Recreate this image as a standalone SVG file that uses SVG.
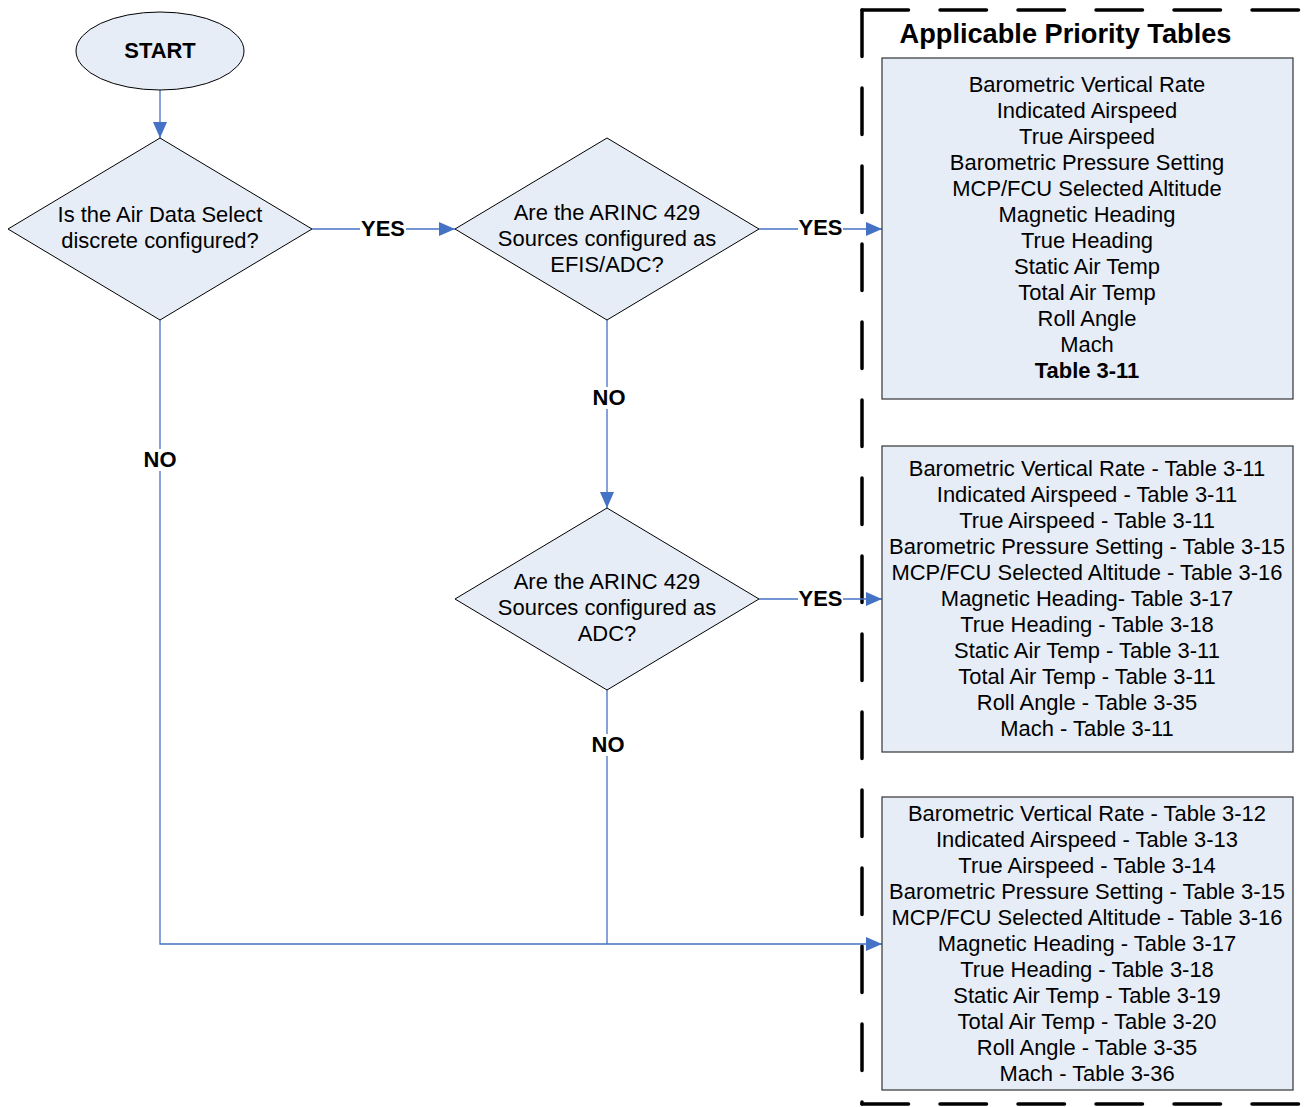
<svg xmlns="http://www.w3.org/2000/svg" width="1306" height="1107" viewBox="0 0 1306 1107">
<defs>
<marker id="arr" markerUnits="userSpaceOnUse" markerWidth="16" markerHeight="14" refX="16" refY="7" orient="auto">
<path d="M0,0 L16,7 L0,14 z" fill="#4472C4"/>
</marker>
<style>
text{font-family:"Liberation Sans",Arial,sans-serif;font-size:21.95px;fill:#000;text-anchor:middle}
.b{font-weight:bold}
.title{font-size:27.2px;font-weight:bold}
.shape{fill:#E7EDF7;stroke:#000;stroke-width:1}
.box{fill:#E7EDF7;stroke:#333;stroke-width:1.2}
.conn{fill:none;stroke:#4472C4;stroke-width:1.3}
.lbl{fill:#fff;stroke:none}
.dash{fill:none;stroke:#000;stroke-width:3.5;stroke-linecap:round;stroke-dasharray:46.5 31.5}
</style>
</defs>
<rect width="1306" height="1107" fill="#fff"/>

<g id="frame">
<path class="dash" d="M862,10 L862,1104"/>
<path class="dash" d="M862,10 L1306,10"/>
<path class="dash" d="M862,1104 L1306,1104"/>
<text class="title" x="1065.5" y="43">Applicable Priority Tables</text>
</g>

<g id="connectors">
<path class="conn" d="M160,90 L160,138" marker-end="url(#arr)"/>
<path class="conn" d="M312,229 L455,229" marker-end="url(#arr)"/>
<path class="conn" d="M759,229 L882,229" marker-end="url(#arr)"/>
<path class="conn" d="M607,320 L607,508" marker-end="url(#arr)"/>
<path class="conn" d="M759,599 L882,599" marker-end="url(#arr)"/>
<path class="conn" d="M607,690 L607,944"/>
<path class="conn" d="M160,320 L160,944 L882,944" marker-end="url(#arr)"/>
<rect class="lbl" x="360" y="218" width="46" height="22"/>
<text class="b" x="383" y="236">YES</text>
<rect class="lbl" x="798" y="217" width="45" height="22"/>
<text class="b" x="820.5" y="235">YES</text>
<rect class="lbl" x="592" y="387" width="34" height="22"/>
<text class="b" x="609" y="405">NO</text>
<rect class="lbl" x="798" y="588" width="45" height="22"/>
<text class="b" x="820.5" y="606">YES</text>
<rect class="lbl" x="591" y="734" width="34" height="22"/>
<text class="b" x="608" y="752">NO</text>
<rect class="lbl" x="143" y="449" width="34" height="22"/>
<text class="b" x="160" y="467">NO</text>
</g>

<g id="start">
<ellipse class="shape" cx="160" cy="51" rx="84" ry="39"/>
<text class="b" x="160" y="58">START</text>
</g>

<g id="decision1">
<polygon class="shape" points="160,138 312,229 160,320 8,229"/>
<text x="160" y="221.5">Is the Air Data Select</text>
<text x="160" y="247.5">discrete configured?</text>
</g>

<g id="decision2">
<polygon class="shape" points="607,138 759,229 607,320 455,229"/>
<text x="607" y="219.5">Are the ARINC 429</text>
<text x="607" y="245.5">Sources configured as</text>
<text x="607" y="271.5">EFIS/ADC?</text>
</g>

<g id="decision3">
<polygon class="shape" points="607,508 759,599 607,690 455,599"/>
<text x="607" y="588.5">Are the ARINC 429</text>
<text x="607" y="614.5">Sources configured as</text>
<text x="607" y="640.5">ADC?</text>
</g>

<g id="table1">
<rect class="box" x="882" y="58" width="411" height="341"/>
<text x="1087" y="91.5">Barometric Vertical Rate</text>
<text x="1087" y="117.5">Indicated Airspeed</text>
<text x="1087" y="143.5">True Airspeed</text>
<text x="1087" y="169.5">Barometric Pressure Setting</text>
<text x="1087" y="195.5">MCP/FCU Selected Altitude</text>
<text x="1087" y="221.5">Magnetic Heading</text>
<text x="1087" y="247.5">True Heading</text>
<text x="1087" y="273.5">Static Air Temp</text>
<text x="1087" y="299.5">Total Air Temp</text>
<text x="1087" y="325.5">Roll Angle</text>
<text x="1087" y="351.5">Mach</text>
<text class="b" x="1087" y="377.5">Table 3-11</text>
</g>

<g id="table2">
<rect class="box" x="882" y="446" width="411" height="306"/>
<text x="1087" y="475.5">Barometric Vertical Rate - Table 3-11</text>
<text x="1087" y="501.5">Indicated Airspeed - Table 3-11</text>
<text x="1087" y="527.5">True Airspeed - Table 3-11</text>
<text x="1087" y="553.5">Barometric Pressure Setting - Table 3-15</text>
<text x="1087" y="579.5">MCP/FCU Selected Altitude - Table 3-16</text>
<text x="1087" y="605.5">Magnetic Heading- Table 3-17</text>
<text x="1087" y="631.5">True Heading - Table 3-18</text>
<text x="1087" y="657.5">Static Air Temp - Table 3-11</text>
<text x="1087" y="683.5">Total Air Temp - Table 3-11</text>
<text x="1087" y="709.5">Roll Angle - Table 3-35</text>
<text x="1087" y="735.5">Mach - Table 3-11</text>
</g>

<g id="table3">
<rect class="box" x="882" y="797" width="411" height="293"/>
<text x="1087" y="820.5">Barometric Vertical Rate - Table 3-12</text>
<text x="1087" y="846.5">Indicated Airspeed - Table 3-13</text>
<text x="1087" y="872.5">True Airspeed - Table 3-14</text>
<text x="1087" y="898.5">Barometric Pressure Setting - Table 3-15</text>
<text x="1087" y="924.5">MCP/FCU Selected Altitude - Table 3-16</text>
<text x="1087" y="950.5">Magnetic Heading - Table 3-17</text>
<text x="1087" y="976.5">True Heading - Table 3-18</text>
<text x="1087" y="1002.5">Static Air Temp - Table 3-19</text>
<text x="1087" y="1028.5">Total Air Temp - Table 3-20</text>
<text x="1087" y="1054.5">Roll Angle - Table 3-35</text>
<text x="1087" y="1080.5">Mach - Table 3-36</text>
</g>
</svg>
